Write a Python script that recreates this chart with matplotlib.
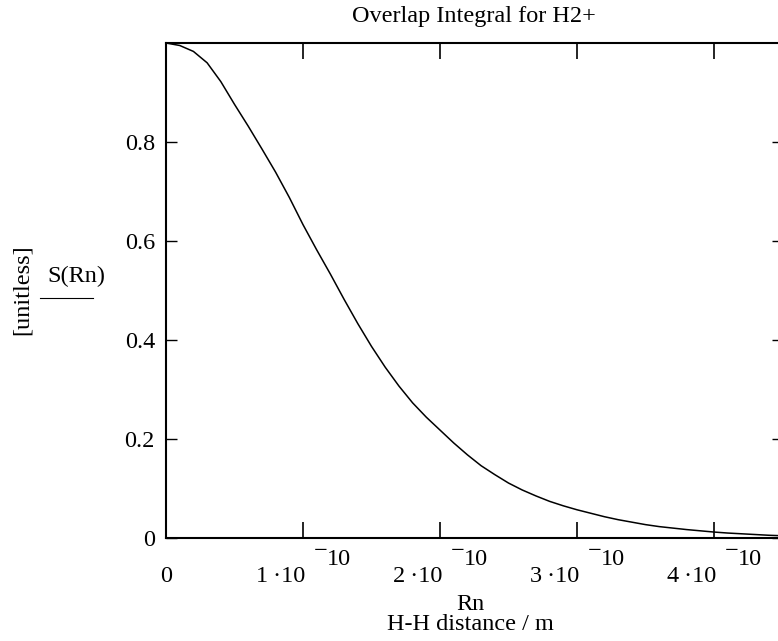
import matplotlib
matplotlib.use("Agg")
import matplotlib.pyplot as plt
import numpy as np

plt.rcParams['font.family'] = 'Liberation Serif'
plt.rcParams['font.size'] = 17.5

# curve, R in units of 1e-10 m
R_e10 = [0.0, 0.1, 0.2, 0.3, 0.4, 0.5, 0.6, 0.7, 0.8, 0.9,
         1.0, 1.1, 1.2, 1.3, 1.4, 1.5, 1.6, 1.7, 1.8, 1.9,
         2.0, 2.1, 2.2, 2.3, 2.4, 2.5, 2.6, 2.7, 2.8, 2.9,
         3.0, 3.1, 3.2, 3.3, 3.4, 3.5, 3.6, 3.7, 3.8, 3.9,
         4.0, 4.1, 4.2, 4.3, 4.4, 4.5]
S_vals = [1.000, 0.995, 0.983, 0.960, 0.922, 0.876, 0.832, 0.786, 0.739, 0.688,
          0.633, 0.582, 0.533, 0.482, 0.433, 0.387, 0.345, 0.307, 0.273, 0.244,
          0.218, 0.192, 0.168, 0.146, 0.128, 0.111, 0.097, 0.085, 0.074, 0.065,
          0.057, 0.050, 0.043, 0.037, 0.032, 0.027, 0.023, 0.020, 0.017, 0.0145,
          0.012, 0.010, 0.0085, 0.007, 0.0055, 0.0045]

xticks = [0, 1e-10, 2e-10, 3e-10, 4e-10]
xtick_mant = ['0', '1', '2', '3', '4']
yticks = [0, 0.2, 0.4, 0.6, 0.8]
yticklabels = ['0', '0.2', '0.4', '0.6', '0.8']

R = np.array(R_e10) * 1e-10
S = np.array(S_vals)

fig = plt.figure(figsize=(7.78, 6.41), dpi=100)
ax = fig.add_axes([0.2134, 0.1607, 0.7924, 0.7722])
ax.plot(R, S, color='black', lw=1.1)
ax.set_xlim(0, 4.5e-10)
ax.set_ylim(0, 1.0)

ax.set_xticks(xticks)
ax.set_xticklabels(['0', '', '', '', ''])
ax.set_yticks(yticks)
ax.set_yticklabels(yticklabels)

ax.tick_params(axis='x', which='both', direction='in', top=True, bottom=True,
               length=11.5, width=1.2, pad=31.5)
ax.tick_params(axis='y', which='both', direction='in', left=True, right=True,
               length=8, width=1.0, pad=8)
for lbl in ax.get_xticklabels():
    lbl.set_verticalalignment('baseline')
for sp in ax.spines.values():
    sp.set_linewidth(1.5)

# Mathcad style "n·10¯10" tick labels, exponent at full size
for xt, m in zip(xticks[1:], xtick_mant[1:]):
    ax.annotate(m + '\u2009\u00b710', xy=(xt, 0), xycoords=('data', 'axes fraction'),
                xytext=(1.5, -31.7), textcoords='offset points',
                ha='right', va='baseline')
    ax.annotate('\u2212', xy=(xt, 0), xycoords=('data', 'axes fraction'),
                xytext=(7.4, -13.6), textcoords='offset points',
                ha='left', va='baseline')
    ax.annotate('10', xy=(xt, 0), xycoords=('data', 'axes fraction'),
                xytext=(17.0, -19.4), textcoords='offset points',
                ha='left', va='baseline')

ax.set_title('Overlap Integral for H2+', pad=15, fontsize=17.5)

# Mathcad style axis labels
fig.text(470 / 778, 1 - 605 / 641, 'Rn', ha='center', va='center')
fig.text(470 / 778, 1 - 625 / 641, 'H-H distance / m', ha='center', va='center')
fig.text(22 / 778, 1 - 290 / 641, '[unitless]', rotation=90, ha='center', va='center')
fig.text(76 / 778, 1 - 276 / 641, 'S(Rn)', ha='center', va='center')
fig.add_artist(plt.Line2D([40 / 778, 93 / 778], [1 - 298 / 641, 1 - 298 / 641],
                          color='black', lw=0.8))

fig.savefig('out.png', dpi=100)
